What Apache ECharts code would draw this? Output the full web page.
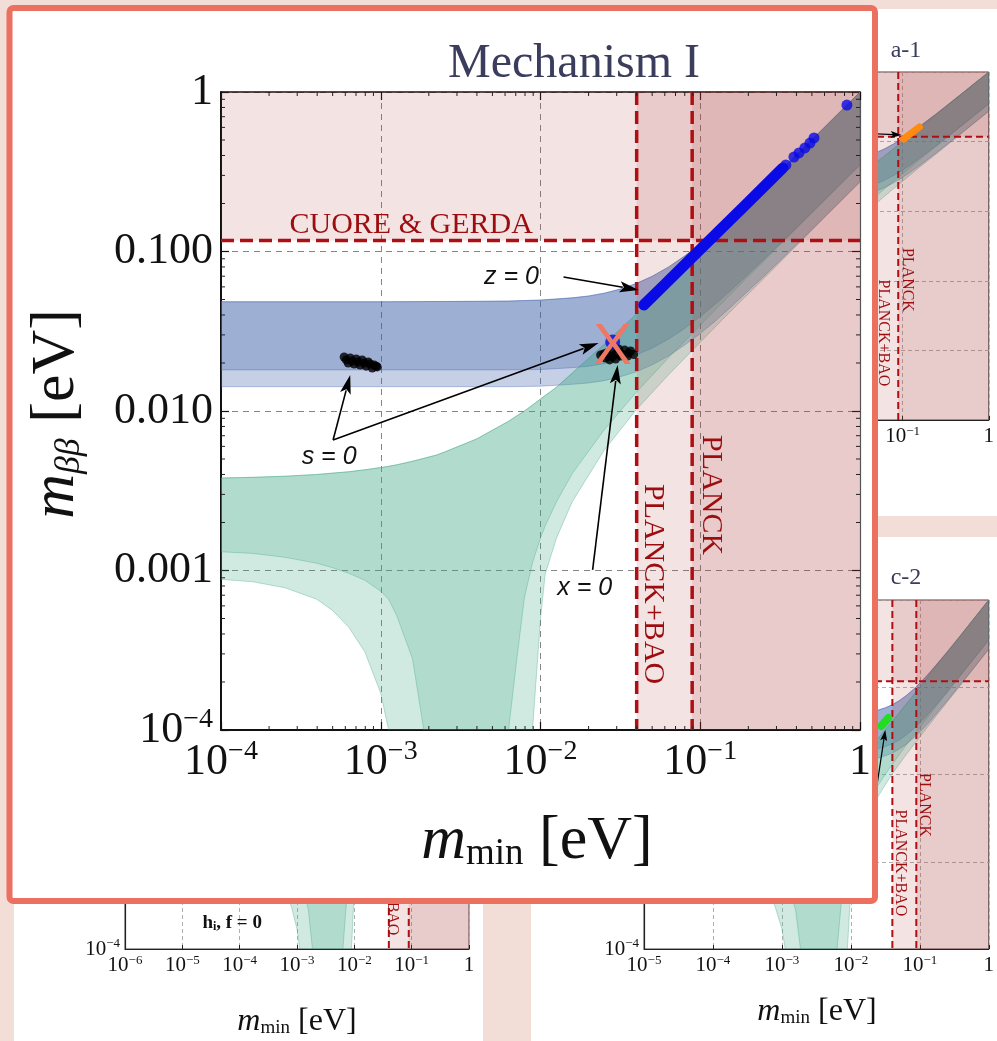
<!DOCTYPE html>
<html>
<head>
<meta charset="utf-8">
<script src="https://cdn.jsdelivr.net/npm/echarts@6.0.0/dist/echarts.min.js"></script>
<style>
html,body{margin:0;padding:0;width:997px;height:1041px;overflow:hidden;background:#f3ddd7;}
.layer{position:absolute;left:0;top:0;width:997px;height:1041px;}
</style>
</head>
<body>
<div id="bg" class="layer"></div>
<div id="main" class="layer"></div>
<script>
// ---------------- data ----------------
// Normal ordering band (green): lightest neutrino mass and m_bb bounds
const noX = [0.0001, 0.000158, 0.000251, 0.000398, 0.000501, 0.000631, 0.000794, 0.001, 0.00112, 0.00126, 0.00158, 0.00186, 0.00224, 0.00251, 0.00398, 0.00631, 0.00708, 0.00794, 0.00891, 0.01, 0.0107, 0.0126, 0.0158, 0.0251, 0.0398, 0.0631, 0.1, 0.158, 0.251, 0.398, 0.631, 1];
const noHi = [0.0038, 0.00384, 0.0039, 0.0040, 0.00408, 0.00416, 0.00428, 0.00442, 0.0045, 0.0046, 0.00484, 0.00505, 0.0053, 0.00553, 0.00668, 0.00862, 0.0093, 0.0100, 0.0109, 0.0119, 0.0125, 0.0141, 0.0173, 0.0262, 0.0406, 0.0637, 0.100, 0.159, 0.251, 0.398, 0.631, 1.0];
const noLoDark = [0.00131, 0.00128, 0.00121, 0.00111, 0.00104, 0.00096, 0.00087, 0.00074, 0.00066, 0.00052, 0.00028, 0.0001, 1e-7, 1e-7, 1e-7, 0.0001, 0.00027, 0.00068, 0.00112, 0.0016, 0.0019, 0.0027, 0.00405, 0.00764, 0.0131, 0.0215, 0.0345, 0.0551, 0.0875, 0.139, 0.220, 0.349];
const noLoLight = [0.00088, 0.00085, 0.00078, 0.00066, 0.00056, 0.00044, 0.00031, 0.00017, 0.0001, 1e-7, 1e-7, 1e-7, 1e-7, 1e-7, 1e-7, 1e-7, 1e-7, 1e-7, 0.0001, 0.0005, 0.00095, 0.0016, 0.0027, 0.0057, 0.0102, 0.0168, 0.027, 0.043, 0.068, 0.108, 0.172, 0.272];
// Inverted ordering band (blue)
const ioX = [0.0001, 0.001, 0.00398, 0.00631, 0.01, 0.0158, 0.02, 0.0251, 0.0316, 0.0398, 0.0501, 0.0631, 0.0794, 0.1, 0.126, 0.158, 0.251, 0.398, 0.631, 1];
const ioHi = [0.0484, 0.0484, 0.0487, 0.0489, 0.0496, 0.0512, 0.0526, 0.0548, 0.0581, 0.0630, 0.0700, 0.0798, 0.0933, 0.1113, 0.1351, 0.1659, 0.2559, 0.401, 0.633, 1.0];
const ioLoDark = [0.0181, 0.0181, 0.0181, 0.0181, 0.0182, 0.0187, 0.0191, 0.0198, 0.0209, 0.0225, 0.0248, 0.0282, 0.0328, 0.0391, 0.0473, 0.0580, 0.0894, 0.140, 0.221, 0.349];
const ioLoLight = [0.0142, 0.0142, 0.0142, 0.0142, 0.0143, 0.0147, 0.0150, 0.0155, 0.0164, 0.0176, 0.0195, 0.0221, 0.0258, 0.0306, 0.0371, 0.0455, 0.0702, 0.110, 0.173, 0.274];
// experimental limits
const limCuore = 0.117;
const limPlanckBao = 0.040;
const limPlanck = 0.089;
const vLimits = [limPlanckBao, limPlanck];
const hLimits = [limCuore];
// model points, Mechanism I
const zLineX = [0.0443, 0.06, 0.1, 0.2, 0.329];
const zLineY = [0.0462, 0.0622, 0.103, 0.204, 0.334];
const zDotsX = [0.3436, 0.3855, 0.415, 0.4519, 0.4864, 0.5155, 0.828];
const zDotsY = [0.3486, 0.391, 0.415, 0.4457, 0.4788, 0.5152, 0.828];
const s0X = [0.00059, 0.000644, 0.000702, 0.000765, 0.000835, 0.00091, 0.000951, 0.000626, 0.000682, 0.000743, 0.000811, 0.000885, 0.000608, 0.000663, 0.000723, 0.000788, 0.000859, 0.000937];
const s0Y = [0.0218, 0.0215, 0.0212, 0.0209, 0.0203, 0.0194, 0.0189, 0.0200, 0.0197, 0.0194, 0.0191, 0.0186, 0.0209, 0.02058, 0.0203, 0.0200, 0.0197, 0.0191];
const x0X = [0.02377, 0.02594, 0.02827, 0.03084, 0.03365, 0.03664, 0.02557, 0.02827, 0.03177, 0.03564, 0.02483, 0.0271, 0.02951, 0.0322, 0.03508, 0.0383, 0.0271, 0.02951];
const x0Y = [0.02244, 0.02312, 0.0241, 0.02449, 0.0241, 0.02377, 0.02148, 0.02183, 0.02213, 0.02312, 0.02276, 0.02213, 0.02276, 0.02276, 0.02213, 0.0226, 0.0209, 0.02118];
const bestX = [0.0283];
const bestY = [0.0271];
const crossX = [0.0283];
const crossY = [0.0248];
// annotations, Mechanism I
const annoText = ['z = 0', 's = 0', 'x = 0'];
const annoX = [0.00658, 0.000475, 0.0189];
const annoY = [0.0692, 0.00515, 0.000776];
const arrowFromX = [0.01393, 0.000503, 0.000503, 0.0212];
const arrowFromY = [0.0692, 0.00658, 0.00658, 0.00101];
const arrowToX = [0.0411, 0.000644, 0.0231, 0.0304];
const arrowToY = [0.0574, 0.01683, 0.0267, 0.0194];
const limitText = ['CUORE & GERDA', 'PLANCK+BAO', 'PLANCK'];
const limitTextX = [0.00155, 0.0503, 0.1164];
const limitTextY = [0.1466, 0.000822, 0.00297];
// tick labels
const mainXTicks = ['10^-4', '10^-3', '10^-2', '10^-1', '1'];
const mainYTicks = ['10^-4', '0.001', '0.010', '0.100', '1'];
const a1XTicks = ['10^-5', '10^-4', '10^-3', '10^-2', '10^-1', '1'];
const a1YTicks = ['10^-5', '10^-4', '10^-3', '10^-2', '10^-1', '1'];
const c2XTicks = ['10^-5', '10^-4', '10^-3', '10^-2', '10^-1', '1'];
const c2YTicks = ['10^-4', '10^-3', '10^-2', '10^-1', '1'];
const blXTicks = ['10^-6', '10^-5', '10^-4', '10^-3', '10^-2', '10^-1', '1'];
const blYTicks = ['10^-4', '10^-3', '10^-2', '10^-1', '1'];
// side panels
const a1MarkX = [0.1026, 0.1567];
const a1MarkY = [0.109, 0.162];
const c2MarkX = [0.0277, 0.0349];
const c2MarkY = [0.036, 0.0444];
const panelLimitTextX = [[0.0589, 0.114], [0.0518, 0.114], [0.0454, 0.114]];
const panelLimitTextY = [[0.000178, 0.00103], [0.00097, 0.00447], [0.000586, 0.0022]];
const panelArrowFromX = [[0.0296], [0.0228], []];
const panelArrowFromY = [[0.133], [0.00582], []];
const panelArrowToX = [[0.0975], [0.0316], []];
const panelArrowToY = [[0.124], [0.0324], []];

// ---------------- styling ----------------
const SERIF = '"Liberation Serif", "Times New Roman", serif';
const SANS = '"Liberation Sans", Arial, sans-serif';
const RED = '#ad0f12';
const RED_TXT = '#9c0d10';
const BLUE = '#0a0ae6';
const IO_LIGHT = 'rgba(63,96,168,0.30)';
const IO_DARK = 'rgba(63,96,168,0.29)';
const IO_EDGE = 'rgba(63,96,168,0.35)';
const NO_LIGHT = 'rgba(62,167,130,0.24)';
const NO_DARK = 'rgba(62,167,130,0.21)';
const NO_EDGE = 'rgba(62,167,130,0.35)';
const PINK = 'rgba(170,55,55,0.14)';
const TITLE_C = '#3b3d5c';

const zip = (a, b) => a.map((v, i) => [v, b[i]]);

function fmt(labels, minExp) {
  return function (v) {
    const l = labels[Math.round(Math.log10(v)) - minExp];
    if (l === undefined) return '';
    const m = /^10\^(.+)$/.exec(l);
    return m ? '{b|10}{e|' + m[1].replace('-', '\u2212') + '}' : '{b|' + l + '}';
  };
}
function richFor(size) {
  const es = Math.round(size * 0.64);
  return {
    b: { fontSize: size, lineHeight: Math.round(size * 1.1), fontFamily: SERIF, color: '#111' },
    e: { fontSize: es, lineHeight: es, verticalAlign: 'top', fontFamily: SERIF, color: '#111' }
  };
}
function clipRect(params) {
  const c = params.coordSys;
  return { type: 'rect', shape: { x: c.x, y: c.y, width: c.width, height: c.height } };
}
function bandSeries(xs, lo, hi, fill, stroke, ax, z) {
  return {
    type: 'custom', xAxisIndex: ax, yAxisIndex: ax, z: z, silent: true,
    data: xs.map((x, i) => [x, hi[i]]),
    renderItem: function (params, api) {
      if (params.dataIndex !== 0) return;
      const top = xs.map((x, i) => api.coord([x, hi[i]]));
      const bot = xs.map((x, i) => api.coord([x, lo[i]])).reverse();
      return { type: 'polygon', shape: { points: top.concat(bot) },
        style: { fill: fill, stroke: stroke, lineWidth: 1 }, clipPath: clipRect(params) };
    }
  };
}
function regionSeries(ax, z) {
  return {
    type: 'custom', xAxisIndex: ax, yAxisIndex: ax, z: z, silent: true,
    data: [[limPlanckBao, limCuore]],
    renderItem: function (params, api) {
      const c = params.coordSys;
      const right = c.x + c.width, bottom = c.y + c.height;
      const yC = Math.max(c.y, Math.min(bottom, api.coord([1, limCuore])[1]));
      const xs = vLimits.map(v => Math.max(c.x, Math.min(right, api.coord([v, 1])[0])));
      const ch = [{ type: 'rect', shape: { x: c.x, y: c.y, width: c.width, height: yC - c.y }, style: { fill: PINK } }];
      xs.forEach(x => ch.push({ type: 'rect', shape: { x: x, y: c.y, width: right - x, height: c.height }, style: { fill: PINK } }));
      return { type: 'group', children: ch };
    }
  };
}
function limitSeries(ax, z, width, dash) {
  return {
    type: 'custom', xAxisIndex: ax, yAxisIndex: ax, z: z, silent: true,
    data: [[limPlanckBao, limCuore]],
    renderItem: function (params, api) {
      const c = params.coordSys;
      const ch = [];
      vLimits.forEach(v => {
        const x = api.coord([v, 1])[0];
        ch.push({ type: 'line', shape: { x1: x, y1: c.y, x2: x, y2: c.y + c.height }, style: { stroke: RED, lineWidth: width, lineDash: dash } });
      });
      hLimits.forEach(v => {
        const y = api.coord([1, v])[1];
        ch.push({ type: 'line', shape: { x1: c.x, y1: y, x2: c.x + c.width, y2: y }, style: { stroke: RED, lineWidth: width, lineDash: dash } });
      });
      return { type: 'group', children: ch };
    }
  };
}
function textSeries(texts, xs, ys, ax, z, styleFn) {
  return {
    type: 'custom', xAxisIndex: ax, yAxisIndex: ax, z: z, silent: true,
    data: zip(xs, ys),
    renderItem: function (params, api) {
      const i = params.dataIndex;
      const p = api.coord([xs[i], ys[i]]);
      const s = styleFn(i);
      return { type: 'text', x: p[0], y: p[1], rotation: s.rotation || 0,
        style: Object.assign({ text: texts[i], align: 'center', verticalAlign: 'middle' }, s.style) };
    }
  };
}
function arrowSeries(fx, fy, tx, ty, ax, z, L, W, lw) {
  return {
    type: 'custom', xAxisIndex: ax, yAxisIndex: ax, z: z, silent: true,
    data: zip(fx, fy),
    renderItem: function (params, api) {
      const i = params.dataIndex;
      const p0 = api.coord([fx[i], fy[i]]), p1 = api.coord([tx[i], ty[i]]);
      const dx = p1[0] - p0[0], dy = p1[1] - p0[1], len = Math.hypot(dx, dy);
      const ux = dx / len, uy = dy / len;
      const bx = p1[0] - ux * L, by = p1[1] - uy * L;
      return { type: 'group', children: [
        { type: 'line', shape: { x1: p0[0], y1: p0[1], x2: bx + ux * 3, y2: by + uy * 3 }, style: { stroke: '#000', lineWidth: lw } },
        { type: 'polygon', shape: { points: [[p1[0], p1[1]], [bx - uy * W, by + ux * W], [bx + ux * L * 0.22, by + uy * L * 0.22], [bx + uy * W, by - ux * W]] }, style: { fill: '#000' } }
      ] };
    }
  };
}
function minorTickSeries(ax, z, d0, d1) {
  return {
    type: 'custom', xAxisIndex: ax, yAxisIndex: ax, z: z, silent: true,
    data: [[0.001, 0.001]],
    renderItem: function (params, api) {
      const c = params.coordSys, ch = [], st = () => ({ stroke: '#222', lineWidth: 1 });
      for (let d = d0; d < d1; d++) {
        for (let m = 2; m <= 9; m++) {
          const v = m * Math.pow(10, d);
          const x = api.coord([v, 1])[0], y = api.coord([1, v])[1];
          const b = c.y + c.height, r = c.x + c.width;
          ch.push({ type: 'line', shape: { x1: x, y1: b, x2: x, y2: b - 4 }, style: st() });
          ch.push({ type: 'line', shape: { x1: x, y1: c.y, x2: x, y2: c.y + 4 }, style: st() });
          ch.push({ type: 'line', shape: { x1: c.x, y1: y, x2: c.x + 4, y2: y }, style: st() });
          ch.push({ type: 'line', shape: { x1: r, y1: y, x2: r - 4, y2: y }, style: st() });
        }
      }
      return { type: 'group', children: ch };
    }
  };
}
function bandsFor(ax) {
  return [
    bandSeries(ioX, ioLoLight, ioHi, IO_LIGHT, IO_EDGE, ax, 2),
    bandSeries(ioX, ioLoDark, ioHi, IO_DARK, IO_EDGE, ax, 2),
    bandSeries(noX, noLoLight, noHi, NO_LIGHT, NO_EDGE, ax, 2),
    bandSeries(noX, noLoDark, noHi, NO_DARK, NO_EDGE, ax, 2)
  ];
}

// ---------------- background (side panels) ----------------
const panels = [
  { grid: { left: 558, top: 72, width: 435, height: 348 }, xMin: 1e-5, yMin: 1e-5, xT: a1XTicks, yT: a1YTicks, xE: -5, yE: -5 },
  { grid: { left: 644, top: 600, width: 349, height: 349 }, xMin: 1e-5, yMin: 1e-4, xT: c2XTicks, yT: c2YTicks, xE: -5, yE: -4 },
  { grid: { left: 125, top: 600, width: 344, height: 349 }, xMin: 1e-6, yMin: 1e-4, xT: blXTicks, yT: blYTicks, xE: -6, yE: -4 }
];
function panelAxis(gi, min, labels, minExp) {
  return {
    type: 'log', logBase: 10, gridIndex: gi, min: min, max: 1, splitNumber: -minExp,
    axisLine: { show: true, onZero: false, lineStyle: { color: '#222', width: 1.2 } },
    axisTick: { show: true, inside: true, length: 4, lineStyle: { color: '#222' } },
    axisLabel: { margin: 5, formatter: fmt(labels, minExp), rich: richFor(21) },
    splitLine: { show: true, lineStyle: { color: '#b0b0b0', width: 1, type: [4, 3] } }
  };
}
const bgSeries = [];
panels.forEach((p, k) => {
  bandsFor(k).forEach(s => bgSeries.push(s));
  bgSeries.push(regionSeries(k, 3));
  bgSeries.push(limitSeries(k, 4, 2, [7, 4]));
  bgSeries.push(textSeries(['PLANCK+BAO', 'PLANCK'], panelLimitTextX[k], panelLimitTextY[k], k, 5,
    () => ({ rotation: -Math.PI / 2, style: { fontSize: 16, fontFamily: SERIF, fill: RED_TXT } })));
  if (panelArrowFromX[k].length) {
    bgSeries.push(arrowSeries(panelArrowFromX[k], panelArrowFromY[k], panelArrowToX[k], panelArrowToY[k], k, 6, 11, 3.5, 1.2));
  }
});
bgSeries.push({ type: 'line', xAxisIndex: 0, yAxisIndex: 0, z: 5, silent: true, showSymbol: false,
  data: zip(a1MarkX, a1MarkY), lineStyle: { color: '#ff8a10', width: 7, cap: 'round' } });
bgSeries.push({ type: 'line', xAxisIndex: 1, yAxisIndex: 1, z: 5, silent: true, showSymbol: false,
  data: zip(c2MarkX, c2MarkY), lineStyle: { color: '#22dd22', width: 8, cap: 'round' } });
bgSeries.push(textSeries(['x = 0'], [0.0107], [0.0005], 1, 5,
  () => ({ style: { fontSize: 16, fontStyle: 'italic', fontFamily: SANS, fill: '#111' } })));
bgSeries.push(textSeries(['{b|h}{s|i}{b|, f = 0}'], [7.4e-5], [0.0002], 2, 5,
  () => ({ style: { rich: {
    b: { fontSize: 19, fontWeight: 'bold', fontFamily: SERIF, fill: '#111', lineHeight: 20 },
    s: { fontSize: 12, fontWeight: 'bold', fontFamily: SERIF, fill: '#111', lineHeight: 12, verticalAlign: 'bottom' } } } })));

function axisTitle(x, y, size, rot) {
  const sub = Math.round(size * 0.6);
  return { type: 'text', x: x, y: y, rotation: rot || 0, z: 5,
    style: { text: '{m|m}{s|min}{n| [eV]}', align: 'center', verticalAlign: 'middle',
      rich: {
        m: { fontSize: size, fontStyle: 'italic', fontFamily: SERIF, fill: '#111', lineHeight: size },
        s: { fontSize: sub, fontFamily: SERIF, fill: '#111', lineHeight: Math.round(size * 0.55), verticalAlign: 'bottom' },
        n: { fontSize: size, fontFamily: SERIF, fill: '#111', lineHeight: size }
      } } };
}

const bgOption = {
  animation: false,
  backgroundColor: '#f3ddd7',
  grid: panels.map(p => Object.assign({ show: true, borderColor: '#444', borderWidth: 1, backgroundColor: 'transparent' }, p.grid)),
  xAxis: panels.map((p, k) => panelAxis(k, p.xMin, p.xT, p.xE)),
  yAxis: panels.map((p, k) => panelAxis(k, p.yMin, p.yT, p.yE)),
  graphic: [
    { type: 'rect', z: -10, shape: { x: 540, y: 9, width: 457, height: 507 }, style: { fill: '#fff' } },
    { type: 'rect', z: -10, shape: { x: 531, y: 537, width: 466, height: 504 }, style: { fill: '#fff' } },
    { type: 'rect', z: -10, shape: { x: 14, y: 537, width: 469, height: 504 }, style: { fill: '#fff' } },
    { type: 'text', z: 5, x: 906, y: 51, style: { text: 'a-1', fontSize: 24, fontFamily: SERIF, fill: TITLE_C, align: 'center', verticalAlign: 'middle' } },
    { type: 'text', z: 5, x: 906, y: 578, style: { text: 'c-2', fontSize: 24, fontFamily: SERIF, fill: TITLE_C, align: 'center', verticalAlign: 'middle' } },
    axisTitle(820, 482, 32),
    axisTitle(817, 1012, 32),
    axisTitle(297, 1022, 32),
    { type: 'rect', z: 100, shape: { x: 9.5, y: 8, width: 865.5, height: 893, r: 4 }, style: { fill: '#ffffff', stroke: '#ec705f', lineWidth: 6 } }
  ],
  series: bgSeries
};
const bg = echarts.init(document.getElementById('bg'), null, { renderer: 'canvas', width: 997, height: 1041 });
bg.setOption(bgOption);

// ---------------- main chart: Mechanism I ----------------
const mainRich = richFor(44);
function mainAxis(pos, labels, isX) {
  const showLab = pos === 'bottom' || pos === 'left';
  return {
    type: 'log', logBase: 10, min: 1e-4, max: 1, splitNumber: 4, position: pos,
    axisLine: { show: true, onZero: false, lineStyle: { color: pos === 'right' ? '#555' : '#111', width: pos === 'right' ? 1.2 : (pos === 'top' ? 1.5 : 2) } },
    axisTick: { show: true, inside: true, length: 8, lineStyle: { color: '#111', width: 1.2 } },
    axisLabel: { show: showLab, margin: 8, formatter: showLab ? fmt(labels, -4) : '', rich: mainRich },
    splitLine: { show: showLab, lineStyle: { color: '#858585', width: 1, type: [6, 5] } }
  };
}
const mainSeries = bandsFor(0).concat([
  regionSeries(0, 3),
  limitSeries(0, 4, 3.5, [13, 6]),
  minorTickSeries(0, 6, -4, 0),
  { type: 'scatter', z: 5, silent: true, data: zip(s0X, s0Y), symbolSize: 9, itemStyle: { color: '#000' } },
  { type: 'scatter', z: 5, silent: true, data: zip(x0X, x0Y), symbolSize: 9, itemStyle: { color: '#000' } },
  { type: 'line', z: 5, silent: true, data: zip(zLineX, zLineY), showSymbol: false, lineStyle: { color: BLUE, width: 11, cap: 'round' } },
  { type: 'scatter', z: 5, silent: true, data: zip(zDotsX, zDotsY), symbolSize: 11, itemStyle: { color: BLUE } },
  { type: 'scatter', z: 5, silent: true, data: zip(bestX, bestY), symbolSize: 15, itemStyle: { color: BLUE } },
  arrowSeries(arrowFromX, arrowFromY, arrowToX, arrowToY, 0, 6, 19, 5.5, 1.6),
  textSeries(annoText, annoX, annoY, 0, 6,
    () => ({ style: { fontSize: 25, fontStyle: 'italic', fontFamily: SANS, fill: '#111' } })),
  textSeries(limitText, limitTextX, limitTextY, 0, 6,
    i => ({ rotation: i === 0 ? 0 : -Math.PI / 2, style: { fontSize: 30, fontFamily: SERIF, fill: RED_TXT } })),
  textSeries(['X'], crossX, crossY, 0, 7,
    () => ({ style: { fontSize: 58, fontFamily: SANS, fill: '#ee7864' } }))
]);
const mainOption = {
  animation: false,
  backgroundColor: 'transparent',
  grid: { left: 221, top: 92, width: 639, height: 638, show: false },
  xAxis: [mainAxis('bottom', mainXTicks, true), mainAxis('top', mainXTicks, true)],
  yAxis: [mainAxis('left', mainYTicks, false), mainAxis('right', mainYTicks, false)],
  graphic: [
    { type: 'text', x: 574, y: 64, style: { text: 'Mechanism I', fontSize: 48, fontFamily: SERIF, fill: TITLE_C, align: 'center', verticalAlign: 'middle' } },
    { type: 'text', x: 57, y: 414, rotation: Math.PI / 2,
      style: { text: '{m|m}{s|\u03b2\u03b2}{n| [eV]}', align: 'center', verticalAlign: 'middle',
        rich: {
          m: { fontSize: 62, fontStyle: 'italic', fontFamily: SERIF, fill: '#111', lineHeight: 62 },
          s: { fontSize: 36, fontStyle: 'italic', fontFamily: SERIF, fill: '#111', lineHeight: 34, verticalAlign: 'bottom' },
          n: { fontSize: 62, fontFamily: SERIF, fill: '#111', lineHeight: 62 }
        } } },
    Object.assign(axisTitle(537, 842, 62), { z: 0 })
  ],
  series: mainSeries
};
const mainChart = echarts.init(document.getElementById('main'), null, { renderer: 'canvas', width: 997, height: 1041 });
mainChart.setOption(mainOption);
</script>
</body>
</html>
